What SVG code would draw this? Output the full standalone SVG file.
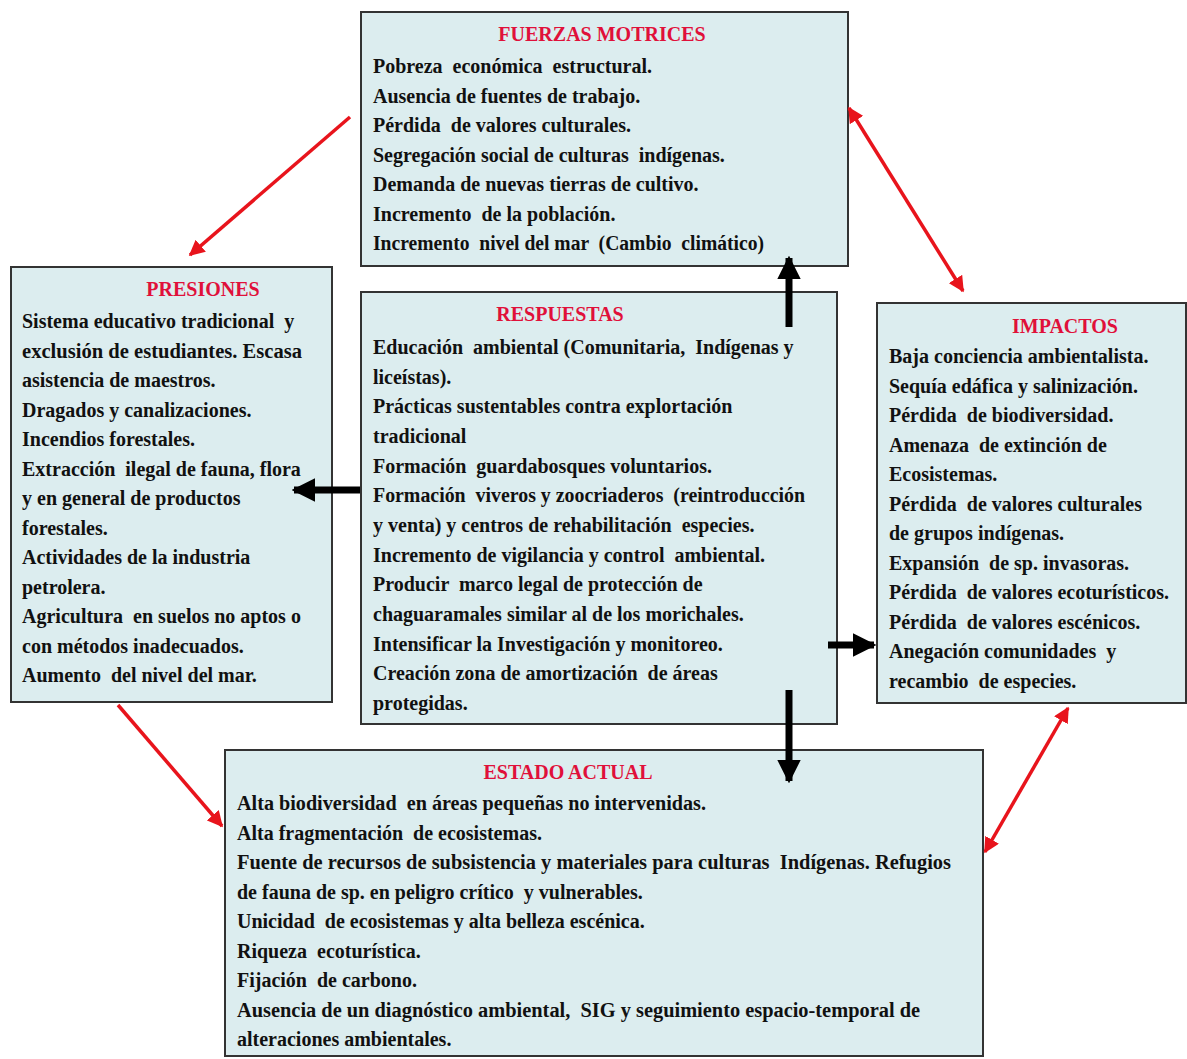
<svg xmlns="http://www.w3.org/2000/svg" width="1187" height="1059" viewBox="0 0 1187 1059">
<defs>
<style>
.box{fill:#dcedef;stroke:#333;stroke-width:2}
.t{font-family:"Liberation Serif","Times New Roman",serif;font-weight:bold;font-size:20px;fill:#111;white-space:pre}
.h{font-family:"Liberation Serif","Times New Roman",serif;font-weight:bold;font-size:20px;fill:#e0103a;text-anchor:middle}
.red{stroke:#e8141c;stroke-width:3.5;fill:none}
.blk{stroke:#000;stroke-width:7;fill:none}
</style>
<marker id="ra" viewBox="0 0 10 10" refX="9" refY="5" markerWidth="4.5" markerHeight="4.5" orient="auto-start-reverse" markerUnits="strokeWidth"><path d="M0,0 L10,5 L0,10 z" fill="#e8141c"/></marker>
<marker id="ba" viewBox="0 0 10 10" refX="9" refY="5" markerWidth="3.4" markerHeight="3.4" orient="auto" markerUnits="strokeWidth"><path d="M0,0 L10,5 L0,10 z" fill="#000"/></marker>
</defs>
<rect width="1187" height="1059" fill="#fff"/>
<g id="fuerzas">
<rect class="box" x="361" y="12" width="487" height="254"/>
<text class="h" x="602" y="41">FUERZAS  MOTRICES</text>
<text class="t" x="373" y="73">Pobreza  económica  estructural.</text>
<text class="t" x="373" y="102.5">Ausencia de fuentes de trabajo.</text>
<text class="t" x="373" y="132">Pérdida  de valores culturales.</text>
<text class="t" x="373" y="161.5">Segregación social de culturas  indígenas.</text>
<text class="t" x="373" y="191">Demanda de nuevas tierras de cultivo.</text>
<text class="t" x="373" y="220.5">Incremento  de la población.</text>
<text class="t" x="373" y="250" textLength="391" lengthAdjust="spacingAndGlyphs">Incremento  nivel del mar  (Cambio  climático)</text>
</g>
<g id="presiones">
<rect class="box" x="11" y="267" width="321" height="435"/>
<text class="h" x="203" y="296">PRESIONES</text>
<text class="t" x="22" y="328">Sistema educativo tradicional  y</text>
<text class="t" x="22" y="357.5" textLength="280" lengthAdjust="spacingAndGlyphs">exclusión de estudiantes. Escasa</text>
<text class="t" x="22" y="387">asistencia de maestros.</text>
<text class="t" x="22" y="416.5">Dragados y canalizaciones.</text>
<text class="t" x="22" y="446">Incendios forestales.</text>
<text class="t" x="22" y="475.5">Extracción  ilegal de fauna, flora</text>
<text class="t" x="22" y="505">y en general de productos</text>
<text class="t" x="22" y="534.5">forestales.</text>
<text class="t" x="22" y="564">Actividades de la industria</text>
<text class="t" x="22" y="593.5">petrolera.</text>
<text class="t" x="22" y="623">Agricultura  en suelos no aptos o</text>
<text class="t" x="22" y="652.5">con métodos inadecuados.</text>
<text class="t" x="22" y="682">Aumento  del nivel del mar.</text>
</g>
<g id="respuestas">
<rect class="box" x="361" y="292" width="476" height="432"/>
<text class="h" x="560" y="321">RESPUESTAS</text>
<text class="t" x="373" y="354">Educación  ambiental (Comunitaria,  Indígenas y</text>
<text class="t" x="373" y="383.7">liceístas).</text>
<text class="t" x="373" y="413.3">Prácticas sustentables contra explortación</text>
<text class="t" x="373" y="443">tradicional</text>
<text class="t" x="373" y="472.7">Formación  guardabosques voluntarios.</text>
<text class="t" x="373" y="502.3" textLength="432" lengthAdjust="spacingAndGlyphs">Formación  viveros y zoocriaderos  (reintroducción</text>
<text class="t" x="373" y="532">y venta) y centros de rehabilitación  especies.</text>
<text class="t" x="373" y="561.7">Incremento de vigilancia y control  ambiental.</text>
<text class="t" x="373" y="591.3">Producir  marco legal de protección de</text>
<text class="t" x="373" y="621">chaguaramales similar al de los morichales.</text>
<text class="t" x="373" y="650.7">Intensificar la Investigación y monitoreo.</text>
<text class="t" x="373" y="680.3">Creación zona de amortización  de áreas</text>
<text class="t" x="373" y="710">protegidas.</text>
</g>
<g id="impactos">
<rect class="box" x="877" y="303" width="309" height="400"/>
<text class="h" x="1065" y="333">IMPACTOS</text>
<text class="t" x="889" y="363">Baja conciencia ambientalista.</text>
<text class="t" x="889" y="392.5">Sequía edáfica y salinización.</text>
<text class="t" x="889" y="422">Pérdida  de biodiversidad.</text>
<text class="t" x="889" y="451.5">Amenaza  de extinción de</text>
<text class="t" x="889" y="481">Ecosistemas.</text>
<text class="t" x="889" y="510.5">Pérdida  de valores culturales</text>
<text class="t" x="889" y="540">de grupos indígenas.</text>
<text class="t" x="889" y="569.5">Expansión  de sp. invasoras.</text>
<text class="t" x="889" y="599" textLength="280" lengthAdjust="spacingAndGlyphs">Pérdida  de valores ecoturísticos.</text>
<text class="t" x="889" y="628.5">Pérdida  de valores escénicos.</text>
<text class="t" x="889" y="658">Anegación comunidades  y</text>
<text class="t" x="889" y="687.5">recambio  de especies.</text>
</g>
<g id="estado">
<rect class="box" x="225" y="750" width="758" height="306"/>
<text class="h" x="568" y="779">ESTADO ACTUAL</text>
<text class="t" x="237" y="810" textLength="469" lengthAdjust="spacingAndGlyphs">Alta biodiversidad  en áreas pequeñas no intervenidas.</text>
<text class="t" x="237" y="839.5">Alta fragmentación  de ecosistemas.</text>
<text class="t" x="237" y="869" textLength="714" lengthAdjust="spacingAndGlyphs">Fuente de recursos de subsistencia y materiales para culturas  Indígenas. Refugios</text>
<text class="t" x="237" y="898.5">de fauna de sp. en peligro crítico  y vulnerables.</text>
<text class="t" x="237" y="928">Unicidad  de ecosistemas y alta belleza escénica.</text>
<text class="t" x="237" y="957.5">Riqueza  ecoturística.</text>
<text class="t" x="237" y="987">Fijación  de carbono.</text>
<text class="t" x="237" y="1016.5" textLength="683" lengthAdjust="spacingAndGlyphs">Ausencia de un diagnóstico ambiental,  SIG y seguimiento espacio-temporal de</text>
<text class="t" x="237" y="1046">alteraciones ambientales.</text>
</g>
<g id="connectors">
<line class="red" x1="350" y1="117" x2="190" y2="255" marker-end="url(#ra)"/>
<line class="red" x1="849" y1="108" x2="963" y2="291" marker-start="url(#ra)" marker-end="url(#ra)"/>
<line class="red" x1="118" y1="705" x2="222" y2="826" marker-end="url(#ra)"/>
<line class="red" x1="1068" y1="708" x2="985" y2="852" marker-start="url(#ra)" marker-end="url(#ra)"/>
<line class="blk" x1="789" y1="327" x2="789" y2="258" marker-end="url(#ba)"/>
<line class="blk" x1="360" y1="490" x2="294" y2="490" marker-end="url(#ba)"/>
<line class="blk" x1="828" y1="645" x2="874" y2="645" marker-end="url(#ba)"/>
<line class="blk" x1="789" y1="690" x2="789" y2="781" marker-end="url(#ba)"/>
</g>
</svg>
